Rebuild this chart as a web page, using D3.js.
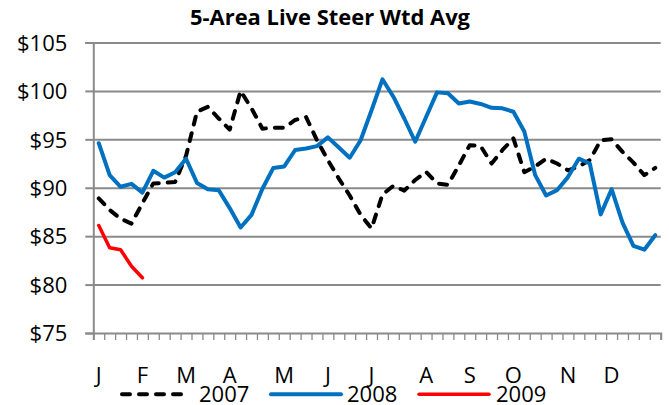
<!DOCTYPE html>
<html><head><meta charset="utf-8">
<script src="https://cdn.jsdelivr.net/npm/d3@7"></script>
<style>body{margin:0;background:#fff}svg{display:block}text{font-family:"Open Sans",sans-serif}</style>
</head><body>
<script>
const monthLabels = ["J","","","","F","","","","M","","","","A","","","","","M","","","","J","","","","J","","","","","A","","","","S","","","","O","","","","","N","","","","D","","","",""];
const series2007 = [88.9,87.7,86.8,86.3,88.4,90.45,90.5,90.6,93.3,97.85,98.35,97.15,96.0,100.0,98.2,96.1,96.2,96.2,97.0,97.3,94.9,92.85,90.95,89.2,87.2,85.8,89.3,90.2,89.7,90.8,91.65,90.45,90.3,92.3,94.4,94.3,92.5,93.9,95.1,91.6,92.2,93.0,92.5,91.8,92.2,92.85,94.9,95.0,93.7,92.6,91.3,92.05];
const series2008 = [94.6,91.3,90.1,90.4,89.5,91.75,91.05,91.6,93.0,90.5,89.85,89.75,87.9,85.9,87.2,89.9,92.05,92.2,93.9,94.05,94.3,95.2,94.15,93.1,94.9,98.0,101.2,99.4,97.15,94.75,97.3,99.85,99.75,98.7,98.9,98.65,98.25,98.2,97.85,95.8,91.3,89.2,89.75,91.1,93.0,92.5,87.25,89.85,86.4,84.0,83.6,85.1];
const series2009 = [86.1,83.8,83.6,81.9,80.7];
const yTicks = [75,80,85,90,95,100,105];
const seriesNames = ["2007","2008","2009"];
const title = "5-Area Live Steer Wtd Avg";

const W = 669, H = 405;
const L = 93.3, R = 660.7, T = 42.5, B = 333;
const svg = d3.select("body").append("svg").attr("width", W).attr("height", H);

const idx = d3.range(monthLabels.length);
const x = d3.scaleBand().domain(idx).range([L, R]).padding(0);
const xc = i => x(i) + x.bandwidth() / 2;
const xb = d3.scaleLinear().domain([0, monthLabels.length]).range([L, R]);
const y = d3.scaleLinear().domain([75, 105]).range([B, T]);

// gridlines
const grid = svg.append("g").attr("transform", `translate(${L},0)`)
  .call(d3.axisLeft(y).tickValues(yTicks.filter(v => v > 75)).tickSize(-(R - L)).tickFormat(""));
grid.select(".domain").remove();
grid.selectAll("line").attr("stroke", "#8a8a8a").attr("stroke-width", 2);

// y axis
const ya = svg.append("g").attr("transform", `translate(${L},0)`)
  .call(d3.axisLeft(y).tickValues(yTicks).tickSize(8).tickPadding(18).tickFormat(d => "$" + d));
ya.select(".domain").attr("stroke", "#8a8a8a").attr("stroke-width", 2);
ya.selectAll("line").attr("stroke", "#8a8a8a").attr("stroke-width", 2);
ya.selectAll("text").attr("font-size", 22).attr("fill", "#000").attr("dy", "0.35em");

// x axis ticks
const xa = svg.append("g").attr("transform", `translate(0,${B})`)
  .call(d3.axisBottom(xb).tickValues(d3.range(monthLabels.length + 1)).tickSize(7).tickFormat(""));
xa.select(".domain").attr("stroke", "#8a8a8a").attr("stroke-width", 2);
xa.selectAll("line").attr("stroke", "#8a8a8a").attr("stroke-width", 1.3);

// month labels
const xl = svg.append("g").attr("transform", `translate(0,${B})`)
  .call(d3.axisBottom(x).tickSize(0).tickPadding(0).tickFormat(i => monthLabels[i]));
xl.select(".domain").remove();
xl.selectAll("text").attr("font-size", 22).attr("fill", "#000").attr("dy", null).attr("y", 50);

const line = d3.line().x((d, i) => xc(i)).y(d => y(d));
const styles = [
  {color: "#000", width: 4, dash: "8,9"},
  {color: "#0070C0", width: 4, dash: null},
  {color: "#FF0000", width: 3.5, dash: null}
];
[series2007, series2008, series2009].forEach((s, k) => {
  svg.append("path").datum(s).attr("d", line).attr("fill", "none")
    .attr("stroke", styles[k].color).attr("stroke-width", styles[k].width)
    .attr("stroke-linejoin", "round").attr("stroke-linecap", "round")
    .attr("stroke-dasharray", styles[k].dash);
});

// title
svg.append("text").attr("x", 330).attr("y", 25).attr("text-anchor", "middle")
  .attr("font-size", 22).attr("font-weight", "bold").attr("textLength", 280)
  .attr("lengthAdjust", "spacingAndGlyphs").text(title);

// legend
const legX = [[122, 188, 199], [271, 341, 347], [419, 489, 496]];
const lg = svg.append("g");
seriesNames.forEach((n, k) => {
  lg.append("line").attr("x1", legX[k][0]).attr("x2", legX[k][1]).attr("y1", 394.3).attr("y2", 394.3)
    .attr("stroke", styles[k].color).attr("stroke-width", styles[k].width)
    .attr("stroke-linecap", "round").attr("stroke-dasharray", styles[k].dash);
  lg.append("text").attr("x", legX[k][2]).attr("y", 401.5).attr("font-size", 22).attr("fill", "#000").text(n);
});
</script>
</body></html>
